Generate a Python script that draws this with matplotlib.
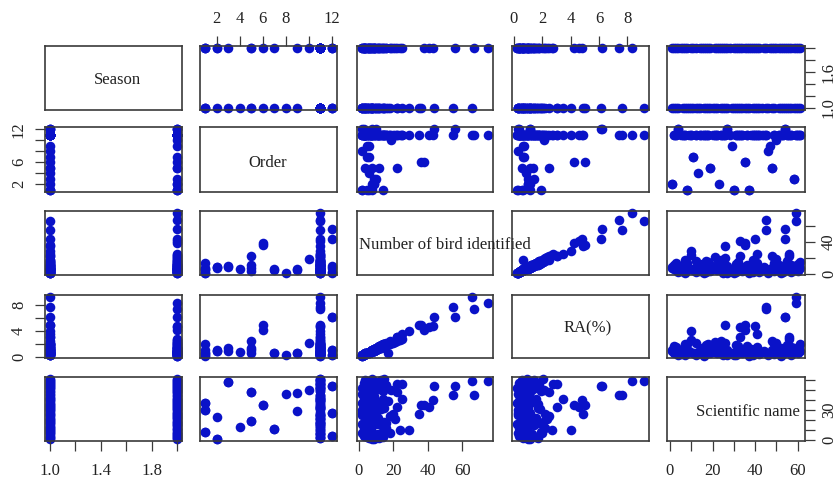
import numpy as np
import matplotlib
matplotlib.use('Agg')
import matplotlib.pyplot as plt

plt.rcParams['font.family'] = ['Liberation Serif', 'DejaVu Serif']

# season 1 records
s1_sci = [1, 2, 3, 4, 6, 7, 8, 9, 10, 11, 12, 13, 14, 16, 17, 18, 19, 20, 21, 22,
          24, 25, 26, 27, 29, 30, 31, 32, 33, 34, 35, 36, 37, 39, 40, 41, 42, 43, 45, 46,
          48, 49, 51, 52, 53, 54, 55, 56, 57, 58, 59, 60, 61]
s1_order = [2, 11, 11, 12, 11, 11, 1, 11, 11, 7, 11, 4, 11, 11, 11, 11, 5, 11, 11, 11,
            11, 11, 11, 12, 9, 1, 11, 11, 11, 11, 6, 11, 1, 11, 11, 11, 11, 11, 11, 8,
            5, 11, 11, 11, 11, 12, 11, 11, 11, 3, 11, 11, 11]
s1_number = [8, 12, 5, 8, 9, 2, 14, 7, 29, 5, 16, 6, 4, 10, 3, 15, 4, 8, 6, 11,
             18, 2, 35, 2, 5, 2, 13, 7, 22, 4, 36, 12, 8, 17, 9, 25, 3, 6, 55, 2,
             8, 14, 5, 10, 3, 44, 7, 22, 11, 10, 66, 4, 15]
s1_ra = [1.11, 1.67, 0.69, 1.11, 1.25, 0.28, 1.94, 0.97, 4.03, 0.69,
         2.22, 0.83, 0.56, 1.39, 0.42, 2.08, 0.56, 1.11, 0.83, 1.53,
         2.50, 0.28, 4.86, 0.28, 0.69, 0.28, 1.81, 0.97, 3.06, 0.56,
         5.00, 1.67, 1.11, 0.65, 1.25, 3.47, 0.42, 0.83, 7.64, 0.28,
         1.11, 1.94, 0.69, 1.39, 0.42, 6.11, 0.97, 3.06, 1.53, 1.39,
         9.17, 0.56, 2.08]

# season 2 records
s2_sci = [1, 2, 3, 4, 5, 6, 7, 8, 10, 11, 12, 14, 15, 16, 17, 18, 19, 21, 22, 23,
          24, 25, 26, 27, 28, 30, 31, 32, 33, 34, 35, 36, 37, 38, 39, 40, 41, 42, 44, 45,
          47, 48, 49, 50, 51, 52, 53, 54, 55, 56, 57, 58, 59, 60, 61]
s2_order = [2, 11, 11, 12, 11, 11, 11, 1, 11, 7, 11, 11, 11, 11, 11, 11, 5, 11, 11, 2,
            11, 11, 11, 12, 11, 1, 11, 11, 11, 11, 6, 11, 1, 11, 11, 11, 11, 11, 11, 11,
            9, 5, 11, 10, 11, 11, 11, 12, 11, 11, 11, 3, 11, 11, 11]
s2_number = [9, 6, 14, 3, 4, 11, 18, 6, 24, 6, 3, 8, 13, 2, 16, 7, 12, 21, 5, 9,
             10, 4, 20, 10, 6, 5, 3, 15, 41, 9, 38, 5, 2, 11, 3, 43, 14, 7, 9, 67,
             6, 22, 4, 19, 12, 2, 7, 56, 16, 25, 3, 9, 75, 13, 8]
s2_ra = [1.00, 0.67, 1.56, 0.33, 0.44, 1.22, 2.00, 0.67, 2.67, 0.67,
         0.33, 0.89, 1.44, 0.22, 1.78, 0.78, 1.33, 2.33, 0.56, 1.00,
         1.11, 0.44, 2.22, 1.11, 0.67, 0.56, 0.33, 1.67, 4.56, 1.00,
         4.22, 0.56, 0.22, 1.22, 0.33, 4.78, 1.56, 0.78, 1.00, 7.44,
         0.67, 2.44, 0.44, 2.11, 1.33, 0.22, 0.78, 6.22, 1.78, 2.78,
         0.33, 1.00, 8.33, 1.44, 0.89]

season = [1] * len(s1_sci) + [2] * len(s2_sci)
order = s1_order + s2_order
number = s1_number + s2_number
ra = s1_ra + s2_ra
sci = s1_sci + s2_sci

columns = [season, order, number, ra, sci]
names = ['Season', 'Order', 'Number of bird identified', 'RA(%)', 'Scientific name']
name_pos = [(0.526, 0.47), (0.496, 0.45), (0.647, 0.47), (0.555, 0.47), (0.587, 0.45)]

# outer axes: ticks and the labels R managed to fit
x_ticks = {0: (np.arange(1.0, 2.01, 0.2), ['1.0', '', '1.4', '', '1.8', '']),
           1: ([2, 4, 6, 8, 10, 12], ['2', '4', '6', '8', '', '12']),
           2: ([0, 20, 40, 60], ['0', '20', '40', '60']),
           3: ([0, 2, 4, 6, 8], ['0', '2', '4', '6', '8']),
           4: ([0, 10, 20, 30, 40, 50, 60], ['0', '', '20', '', '40', '', '60'])}
y_ticks = {0: (np.arange(1.0, 2.01, 0.2), ['1.0', '', '', '1.6', '', '']),
           1: ([2, 4, 6, 8, 10, 12], ['2', '', '6', '', '', '12']),
           2: ([0, 20, 40, 60], ['0', '', '40', '']),
           3: ([0, 2, 4, 6, 8], ['0', '', '4', '', '8']),
           4: ([0, 10, 20, 30, 40, 50, 60], ['0', '', '', '30', '', '', ''])}

W, H = 837, 482
col_x = [(45, 182), (200, 337), (357, 493), (512, 649), (667, 805)]
row_y = [(46, 110), (127, 192), (211, 275), (295, 358), (377, 441)]
DOT = '#0a12c8'
EDGE = '#3a3a3a'

fig = plt.figure(figsize=(W / 100, H / 100), dpi=100)
axes = [[None] * 5 for _ in range(5)]

for i in range(5):
    for j in range(5):
        x0, x1 = col_x[j]
        y0, y1 = row_y[i]
        ax = fig.add_axes([x0 / W, 1 - y1 / H, (x1 - x0) / W, (y1 - y0) / H])
        ax.set_facecolor('none')
        for sp in ax.spines.values():
            sp.set_color(EDGE)
            sp.set_linewidth(1.2)
        ax.tick_params(top=False, bottom=False, left=False, right=False,
                       labeltop=False, labelbottom=False, labelleft=False, labelright=False)
        if i != j:
            ax.scatter(columns[j], columns[i], s=48, color=DOT, linewidths=0, clip_on=False)
            ax.margins(0.04)
        axes[i][j] = ax

for i in range(5):
    ax = axes[i][i]
    ax.set_xlim(axes[(i + 1) % 5][i].get_xlim())
    ax.set_ylim(axes[i][(i + 1) % 5].get_ylim())
    ax.text(name_pos[i][0], name_pos[i][1], names[i], transform=ax.transAxes,
            ha='center', va='center', fontsize=12, color='#222222')

tick_kw = dict(direction='out', length=7, width=0.9, labelsize=12,
               color=EDGE, labelcolor='#222222')

for j in range(5):
    if j % 2 == 1:
        ax = axes[0][j]
        ax.set_xticks(x_ticks[j][0], x_ticks[j][1])
        ax.tick_params(axis='x', top=True, labeltop=True, pad=6.5, **tick_kw)
    else:
        ax = axes[4][j]
        ax.set_xticks(x_ticks[j][0], x_ticks[j][1])
        ax.tick_params(axis='x', bottom=True, labelbottom=True, pad=9, **tick_kw)

for i in range(5):
    if i % 2 == 1:
        ax = axes[i][0]
        ax.set_yticks(y_ticks[i][0], y_ticks[i][1])
        ax.tick_params(axis='y', left=True, labelleft=True, labelrotation=90, pad=6, **tick_kw)
    else:
        ax = axes[i][4]
        ax.set_yticks(y_ticks[i][0], y_ticks[i][1])
        ax.tick_params(axis='y', right=True, labelright=True, labelrotation=90, pad=4.5, **tick_kw)
    for lab in ax.get_yticklabels():
        lab.set_verticalalignment('center')

fig.savefig('out.png', dpi=100)
